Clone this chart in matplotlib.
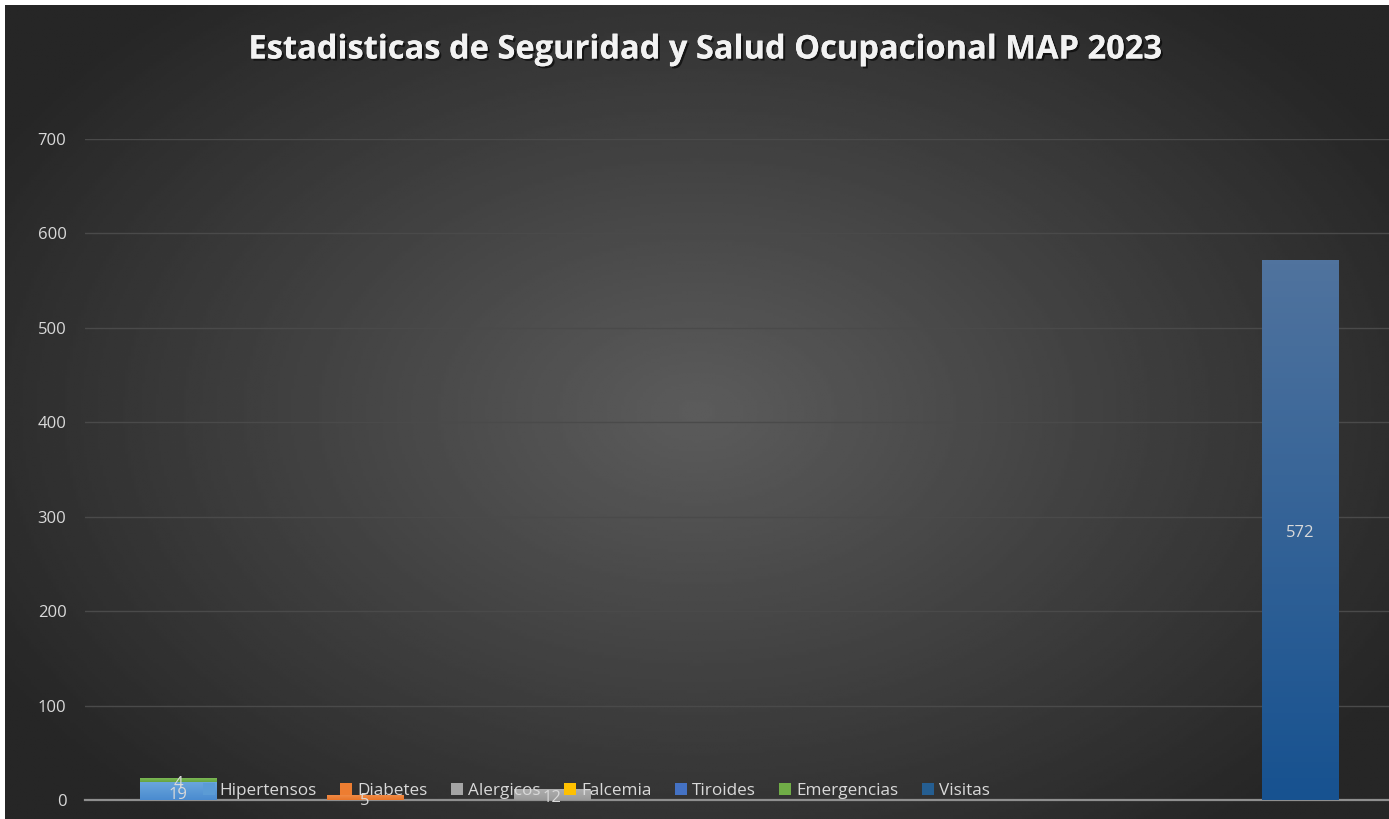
import numpy as np
import matplotlib.pyplot as plt
import matplotlib.patheffects as pe
import matplotlib.transforms as mtransforms
from matplotlib.colors import LinearSegmentedColormap

plt.rcParams['font.family'] = ['Open Sans', 'DejaVu Sans']

# datos
categorias = ['1', '2', '3', '4', '5', '6', '7']
series = ['Hipertensos', 'Diabetes', 'Alergicos', 'Falcemia', 'Tiroides', 'Emergencias', 'Visitas']
hipertensos = [19, 0, 0, 0, 0, 0, 0]
diabetes = [0, 5, 0, 0, 0, 0, 0]
alergicos = [0, 0, 12, 0, 0, 0, 0]
falcemia = [0, 0, 0, 0, 0, 0, 0]
tiroides = [0, 0, 0, 0, 0, 0, 0]
emergencias = [4, 0, 0, 0, 0, 0, 0]
visitas = [0, 0, 0, 0, 0, 0, 572]
valores = [hipertensos, diabetes, alergicos, falcemia, tiroides, emergencias, visitas]

# colores (arriba, abajo) para el degradado de cada serie
colores = [('#6aa6dc', '#4a8bd0'), ('#f08a45', '#e8762a'), ('#b0b0b0', '#9a9a9a'),
           ('#ffc820', '#f5b800'), ('#5580cc', '#3c68bb'), ('#7bb855', '#66a33f'),
           ('#50739e', '#175290')]
legend_col = ['#5B9BD5', '#ED7D31', '#A5A5A5', '#FFC000', '#4472C4', '#70AD47', '#255E91']

W, H = 1389, 819
fig = plt.figure(figsize=(W / 100, H / 100), dpi=100, facecolor='white')

# fondo con degradado radial
bg = fig.add_axes([5 / W, 0, 1 - 5 / W, 1 - 5 / H])
bg.set_axis_off()
yy, xx = np.mgrid[0:1:300j, 0:1:500j]
r = np.sqrt(((xx - 0.5) / 0.75) ** 2 + ((yy - 0.5) / 0.85) ** 2)
val = np.clip(0.36 - 0.27 * r, 0.15, 0.36)
bg.imshow(val, cmap='gray', vmin=0, vmax=1, aspect='auto', extent=[0, 1, 0, 1])

x0, x1 = 84.5, 1393.5
ax = fig.add_axes([x0 / W, 19 / H, (x1 - x0) / W, 661 / H])
ax.set_facecolor('none')
x = np.arange(len(categorias))
ancho = 0.41
bottom = np.zeros(len(categorias))
lbl_tr = ax.transData + mtransforms.ScaledTranslation(0, -3.5 / 100, fig.dpi_scale_trans)
for nombre, v, (ctop, cbot), lc in zip(series, valores, colores, legend_col):
    v = np.array(v, dtype=float)
    bars = ax.bar(x, v, ancho, bottom=bottom, color=lc, label=nombre, zorder=3)
    for b, val_, bt in zip(bars, v, bottom):
        if val_ <= 0:
            continue
        cmap = LinearSegmentedColormap.from_list('g', [cbot, ctop])
        grad = np.linspace(0, 1, 100).reshape(-1, 1)
        im = ax.imshow(grad, cmap=cmap, aspect='auto', origin='lower',
                       extent=[b.get_x(), b.get_x() + b.get_width(), bt, bt + val_], zorder=3.5)
        im.set_clip_path(b)
        ax.text(b.get_x() + b.get_width() / 2, bt + val_ / 2, f'{int(val_)}', transform=lbl_tr,
                ha='center', va='center', color='#d9d9d9', fontsize=12, zorder=5)
    bottom += v

ax.set_xlim(-0.5, 6.5)
ax.set_ylim(0, 700)
ax.set_yticks(range(0, 701, 100))
ax.set_xticks([])
ax.yaxis.grid(True, color='#4a4a4a', lw=1, zorder=0)
for s in ['top', 'right', 'left']:
    ax.spines[s].set_visible(False)
ax.spines['bottom'].set_color('#8f8f8f')
ax.spines['bottom'].set_linewidth(1.6)
ax.tick_params(axis='y', length=0, colors='#d9d9d9', labelsize=12, pad=13)

leg = ax.legend(loc='lower left', bbox_to_anchor=(0.085, -0.009), ncol=7, frameon=False,
                fontsize=12.3, labelcolor='#d9d9d9', handlelength=0.7, handleheight=0.7,
                handletextpad=0.3, columnspacing=1.37, borderaxespad=0)
leg.set_zorder(6)

fig.text(705 / W, 1 - 50 / H, 'Estadisticas de Seguridad y Salud Ocupacional MAP 2023',
         ha='center', va='center', color='#f2f2f2', fontsize=23.5, fontweight='bold',
         path_effects=[pe.withSimplePatchShadow(offset=(1.5, -1.5), shadow_rgbFace='black', alpha=0.6),
                       pe.Normal()])

fig.savefig('out.png', dpi=100, facecolor='white')
